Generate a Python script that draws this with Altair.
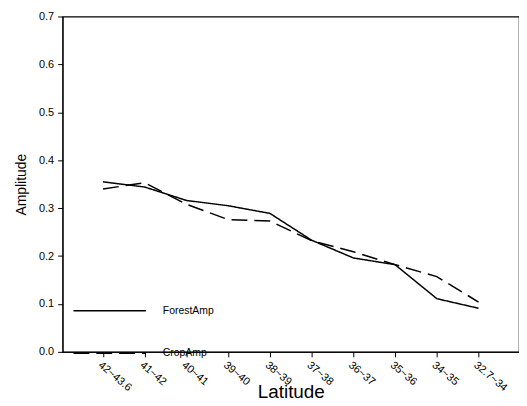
import altair as alt
import pandas as pd

latitude = ["42~43.6", "41~42", "40~41", "39~40", "38~39", "37~38", "36~37", "35~36", "34~35", "32.7~34"]
forest_amp = [0.355, 0.344, 0.316, 0.305, 0.289, 0.233, 0.196, 0.182, 0.111, 0.091]
crop_amp = [0.340, 0.353, 0.308, 0.276, 0.273, 0.232, 0.209, 0.182, 0.157, 0.104]

rows = []
for i, lat in enumerate(latitude):
    rows.append({"Latitude": lat, "Amplitude": forest_amp[i], "Series": "ForestAmp"})
    rows.append({"Latitude": lat, "Amplitude": crop_amp[i], "Series": "CropAmp"})
df = pd.DataFrame(rows)

font = "Liberation Sans"

chart = alt.Chart(df).mark_line(strokeWidth=1.5, color="black").encode(
    x=alt.X("Latitude:N", sort=latitude, title="Latitude",
            scale=alt.Scale(type="point", padding=0.97),
            axis=alt.Axis(labelAngle=40, labelAlign="left", labelBaseline="top",
                          labelFontSize=11, titleFontSize=19, titleFont=font, labelFont=font,
                          tickSize=5, labelPadding=2, titlePadding=-10, domainColor="black",
                          tickColor="black", labelColor="black", titleColor="black",
                          titleFontWeight="normal")),
    y=alt.Y("Amplitude:Q", title="Amplitude",
            scale=alt.Scale(domain=[0, 0.7], nice=False),
            axis=alt.Axis(values=[0, 0.1, 0.2, 0.3, 0.4, 0.5, 0.6, 0.7], format=".1f",
                          grid=False, labelFontSize=11, titleFontSize=14, titleFont=font,
                          labelFont=font, tickSize=5, labelPadding=4, titlePadding=10,
                          domainColor="black", tickColor="black", labelColor="black",
                          titleColor="black", titleFontWeight="normal")),
    strokeDash=alt.StrokeDash("Series:N", sort=["ForestAmp", "CropAmp"],
                              scale=alt.Scale(domain=["ForestAmp", "CropAmp"],
                                              range=[[1, 0], [16, 7]]),
                              legend=alt.Legend(title=None, orient="none", legendX=10, legendY=259,
                                                symbolType="stroke", symbolSize=5329,
                                                symbolStrokeWidth=1.5, symbolStrokeColor="black",
                                                labelFontSize=10.5, labelFont=font, labelColor="black",
                                                labelOffset=16, rowPadding=-45)),
).properties(
    width=460, height=338,
    padding={"left": 6, "top": 1, "right": 0, "bottom": 0}
).configure(background="white").configure_view(stroke="black", strokeWidth=1.2)

chart.save("out.html", embed_options={"renderer": "svg", "actions": False})
